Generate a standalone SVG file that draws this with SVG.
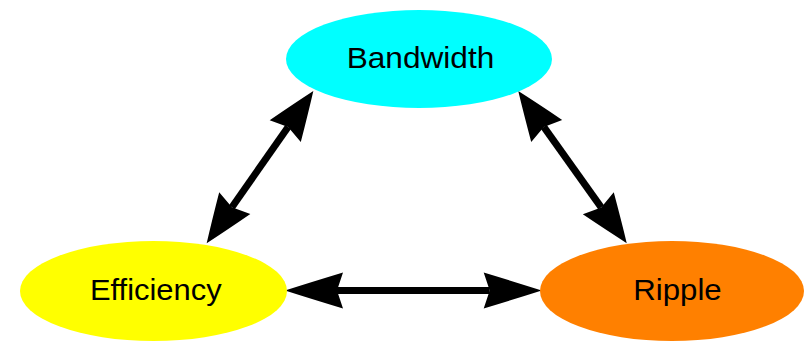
<svg xmlns="http://www.w3.org/2000/svg" width="804" height="342" viewBox="0 0 804 342">
<style>
  .lbl { font-family: "Liberation Sans", Arial, sans-serif; font-size: 30px; fill: #000; text-anchor: middle; }
  .edge { stroke: #000; stroke-width: 7; fill: none; }
</style>
<defs>
  <marker id="vee" markerUnits="userSpaceOnUse" markerWidth="60" markerHeight="40" viewBox="0 -20 50 40" refX="5" refY="0" orient="auto-start-reverse" overflow="visible">
    <path d="M0,-19 Q28,-8.5 49,0 Q28,8.5 0,19 L5,0 Z" fill="#000"/>
  </marker>
  <marker id="veeH" markerUnits="userSpaceOnUse" markerWidth="70" markerHeight="40" viewBox="0 -20 60 40" refX="6" refY="0" orient="auto-start-reverse" overflow="visible">
    <path d="M0,-18 Q33,-8 58,0 Q33,8 0,18 L6,0 Z" fill="#000"/>
  </marker>
</defs>
<g id="edges">
  <line class="edge" x1="231.9" y1="207.3" x2="288.1" y2="127.0" marker-start="url(#vee)" marker-end="url(#vee)"/>
  <line class="edge" x1="543.8" y1="126.9" x2="601.2" y2="207.4" marker-start="url(#vee)" marker-end="url(#vee)"/>
  <line class="edge" x1="337" y1="290.5" x2="489.7" y2="290.5" marker-start="url(#veeH)" marker-end="url(#veeH)"/>
</g>
<g id="bandwidth">
  <ellipse cx="419" cy="59" rx="133" ry="49" fill="#00ffff"/>
  <text class="lbl" x="420.5" y="67.7" textLength="147.6" lengthAdjust="spacingAndGlyphs">Bandwidth</text>
</g>
<g id="efficiency">
  <ellipse cx="153.5" cy="291" rx="133.5" ry="50" fill="#ffff00"/>
  <text class="lbl" x="155.8" y="299.7" textLength="131.7" lengthAdjust="spacingAndGlyphs">Efficiency</text>
</g>
<g id="ripple">
  <ellipse cx="672" cy="291" rx="132" ry="50" fill="#ff8000"/>
  <text class="lbl" x="677.5" y="299.7" textLength="88.4" lengthAdjust="spacingAndGlyphs">Ripple</text>
</g>
</svg>
